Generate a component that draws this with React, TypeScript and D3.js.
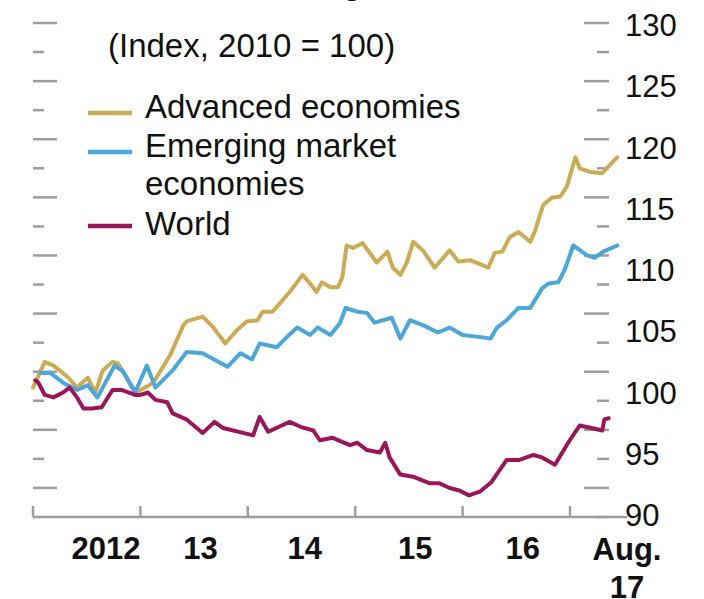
import React from 'react';
import * as d3 from 'd3';

// [decimal year, index value]
const advanced: [number, number][] = [
  [2012.0, 100.4], [2012.11, 102.5], [2012.19, 102.2], [2012.25, 101.8], [2012.33, 101.2],
  [2012.41, 100.4], [2012.51, 101.2], [2012.58, 100.0], [2012.65, 101.8], [2012.74, 102.5],
  [2012.79, 102.4], [2012.86, 101.4], [2012.9, 100.8], [2012.96, 100.0], [2013.12, 100.8],
  [2013.28, 103.1], [2013.4, 105.5], [2013.43, 105.8], [2013.58, 106.2], [2013.68, 105.3],
  [2013.79, 104.0], [2013.9, 105.1], [2013.99, 105.8], [2014.09, 105.9], [2014.14, 106.6],
  [2014.23, 106.6], [2014.3, 107.3], [2014.39, 108.2], [2014.51, 109.6], [2014.58, 108.9],
  [2014.64, 108.2], [2014.69, 109.0], [2014.77, 108.6], [2014.84, 108.6], [2014.88, 109.4],
  [2014.92, 112.0], [2014.98, 111.8], [2015.07, 112.2], [2015.2, 110.6], [2015.3, 111.5],
  [2015.35, 110.2], [2015.42, 109.6], [2015.48, 110.6], [2015.54, 112.3], [2015.63, 111.6],
  [2015.74, 110.2], [2015.88, 111.6], [2015.96, 110.7], [2016.07, 110.8], [2016.24, 110.2],
  [2016.3, 111.4], [2016.37, 111.5], [2016.44, 112.7], [2016.52, 113.1], [2016.63, 112.3],
  [2016.67, 113.1], [2016.75, 115.3], [2016.83, 115.9], [2016.91, 116.0], [2016.97, 116.8],
  [2017.05, 119.2], [2017.09, 118.3], [2017.19, 118.0], [2017.3, 117.9], [2017.34, 118.3],
  [2017.44, 119.2],
];

const emerging: [number, number][] = [
  [2012.07, 101.6], [2012.16, 101.6], [2012.28, 100.8], [2012.41, 100.2], [2012.51, 100.6],
  [2012.6, 99.6], [2012.76, 102.2], [2012.84, 101.7], [2012.95, 100.0], [2013.06, 102.2],
  [2013.14, 100.4], [2013.3, 101.8], [2013.43, 103.3], [2013.58, 103.2], [2013.81, 102.1],
  [2013.93, 103.2], [2014.04, 102.7], [2014.11, 104.0], [2014.27, 103.7], [2014.36, 104.5],
  [2014.46, 105.3], [2014.58, 104.7], [2014.65, 105.3], [2014.77, 104.7], [2014.86, 105.7],
  [2014.91, 106.9], [2015.02, 106.6], [2015.11, 106.5], [2015.18, 105.7], [2015.34, 106.1],
  [2015.42, 104.4], [2015.51, 105.9], [2015.63, 105.5], [2015.77, 104.9], [2015.88, 105.3],
  [2016.0, 104.7], [2016.19, 104.5], [2016.26, 104.4], [2016.32, 105.3], [2016.41, 105.9],
  [2016.52, 106.9], [2016.63, 106.9], [2016.74, 108.5], [2016.8, 108.9], [2016.89, 109.0],
  [2016.95, 110.0], [2017.03, 112.0], [2017.16, 111.2], [2017.23, 111.0], [2017.31, 111.5],
  [2017.44, 112.0],
];

const world: [number, number][] = [
  [2012.02, 101.0], [2012.05, 100.8], [2012.11, 99.8], [2012.19, 99.6], [2012.28, 100.0],
  [2012.34, 100.4], [2012.41, 99.6], [2012.47, 98.7], [2012.55, 98.7], [2012.64, 98.8],
  [2012.74, 100.2], [2012.83, 100.2], [2012.95, 99.8], [2013.0, 99.8], [2013.07, 100.0],
  [2013.14, 99.4], [2013.25, 99.2], [2013.3, 98.3], [2013.43, 97.8], [2013.58, 96.7],
  [2013.69, 97.6], [2013.77, 97.1], [2014.05, 96.5], [2014.11, 98.0], [2014.19, 96.8],
  [2014.39, 97.6], [2014.49, 97.2], [2014.61, 96.9], [2014.67, 96.1], [2014.79, 96.3],
  [2014.95, 95.7], [2015.02, 95.9], [2015.11, 95.3], [2015.23, 95.1], [2015.28, 95.9],
  [2015.32, 94.7], [2015.42, 93.3], [2015.55, 93.1], [2015.69, 92.6], [2015.78, 92.6],
  [2015.88, 92.2], [2015.97, 92.0], [2016.06, 91.6], [2016.16, 91.9], [2016.27, 92.7],
  [2016.41, 94.5], [2016.53, 94.5], [2016.66, 94.9], [2016.74, 94.7], [2016.86, 94.1],
  [2016.99, 96.0], [2017.09, 97.3], [2017.2, 97.1], [2017.3, 96.9], [2017.32, 97.8],
  [2017.36, 97.9],
];

const seriesNames = ['Advanced economies', 'Emerging market', 'World'];
const seriesColors = ['#cdab55', '#4ba6da', '#9a1659'];
const yearTicks = [2012, 2013, 2014, 2015, 2016, 2017];
const yearLabels: [string, number][] = [
  ['2012', 2012.68], ['13', 2013.56], ['14', 2014.53], ['15', 2015.56], ['16', 2016.56],
];
const yTicks = [90, 95, 100, 105, 110, 115, 120, 125, 130];

const W = 704;
const H = 599;
const font = 'Liberation Sans, Arial, sans-serif';
const grey = '#9d9d9d';

export default function App() {
  const x = d3.scaleLinear().domain([2012, 2017]).range([33, 570]);
  const y = d3.scaleLinear().domain([90, 130]).range([515, 25]);
  // tick marks on the side axes follow their own even spacing
  const side = d3.scaleLinear().domain([0, 17]).range([23, 517]);
  const axisY = 517;

  const line = d3.line<[number, number]>()
    .x(d => x(d[0]))
    .y(d => y(d[1]));

  const data = [advanced, emerging, world];

  return (
    <svg width={W} height={H} style={{ position: 'absolute', left: 0, top: 0, background: '#fff' }}
      fontFamily={font}>
      <text x={352} y={-6} fontSize={31} fontWeight="bold" textAnchor="middle" fill="#111">g</text>

      {d3.range(0, 17).map(i => (
        <line key={'l' + i} x1={33} x2={i % 2 === 0 ? 57 : 44} y1={side(i)} y2={side(i)}
          stroke={grey} strokeWidth={2.5} />
      ))}
      {d3.range(0, 18).map(i => (
        <line key={'r' + i} x1={i % 2 === 0 ? 584 : 597} x2={609} y1={side(i)} y2={side(i)}
          stroke={grey} strokeWidth={2.5} />
      ))}

      <line x1={33} x2={627} y1={axisY} y2={axisY} stroke={grey} strokeWidth={2.5} />
      {yearTicks.map(t => (
        <line key={t} x1={x(t)} x2={x(t)} y1={axisY} y2={axisY - 11} stroke={grey} strokeWidth={2.5} />
      ))}

      {yTicks.map(v => (
        <text key={v} x={625} y={y(v)} dy="0.36em" fontSize={31} fill="#111">{v}</text>
      ))}

      {yearLabels.map(([s, t]) => (
        <text key={s} x={x(t)} y={559} fontSize={31} fontWeight="bold" textAnchor="middle" fill="#111">{s}</text>
      ))}
      <text x={627} y={560} fontSize={31} fontWeight="bold" textAnchor="middle" fill="#111">Aug.</text>
      <text x={627} y={598} fontSize={31} fontWeight="bold" textAnchor="middle" fill="#111">17</text>

      {data.map((d, i) => (
        <path key={i} d={line(d) ?? ''} fill="none" stroke={seriesColors[i]} strokeWidth={4}
          strokeLinejoin="round" strokeLinecap="round" />
      ))}

      <text x={108} y={57} fontSize={33} fill="#111">(Index, 2010 = 100)</text>
      {[113, 152, 226].map((ly, i) => (
        <line key={i} x1={88} x2={132} y1={ly} y2={ly} stroke={seriesColors[i]} strokeWidth={4.5} />
      ))}
      <text x={145} y={118} fontSize={33} fill="#111">{seriesNames[0]}</text>
      <text x={145} y={157} fontSize={33} fill="#111">{seriesNames[1]}</text>
      <text x={145} y={195} fontSize={33} fill="#111">economies</text>
      <text x={145} y={235} fontSize={33} fill="#111">{seriesNames[2]}</text>
    </svg>
  );
}
